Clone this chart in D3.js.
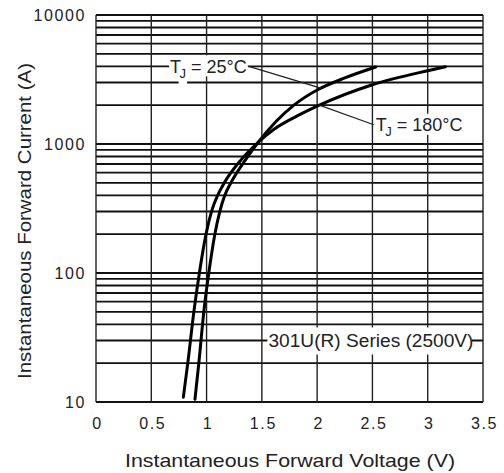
<!DOCTYPE html>
<html><head><meta charset="utf-8">
<script src="https://cdn.jsdelivr.net/npm/d3@7"></script>
<style>body{margin:0;background:#fff}svg{display:block}</style>
</head><body>
<svg id="c" width="504" height="473"></svg>
<script>
// ---- data ----
const xTicks = [0, 0.5, 1, 1.5, 2, 2.5, 3, 3.5];
const yTicks = [10, 100, 1000, 10000];
const seriesNames = ["25°C", "180°C"];
const v25  = [0.895, 0.93, 0.975, 1.02, 1.075, 1.12, 1.165, 1.22, 1.35, 1.455, 1.63, 1.79, 2.00, 2.25, 2.53];
const i25  = [10.5,  20,   50,    100,  200,   300,  400,   500,  750,  1000,  1500, 2000, 2620, 3250, 3950];
const v180 = [0.79, 0.83, 0.885, 0.935, 0.995, 1.045, 1.10, 1.16, 1.31, 1.45, 1.61, 1.82, 2.02, 2.50, 3.00, 3.16];
const i180 = [10.9, 20,   50,    100,   200,   300,   400,  500,  750,  1000, 1300, 1650, 2000, 2880, 3700, 3970];
const seriesLabel = "301U(R) Series (2500V)";
const xTitle = "Instantaneous Forward Voltage (V)";
const yTitle = "Instantaneous Forward Current (A)";

const FONT = "'Liberation Sans', Arial, sans-serif";
const svg = d3.select("#c");
const x = d3.scaleLinear().domain([0, 3.5]).range([96, 483]);
const y = d3.scaleLog().domain([10, 10000]).range([402, 15]);

// grid
const grid = svg.append("g");
grid.selectAll("line.h").data(y.ticks()).join("line")
  .attr("x1", x(0)).attr("x2", x(3.5))
  .attr("y1", d => y(d)).attr("y2", d => y(d))
  .attr("stroke", "#111").attr("stroke-width", 1.9);
grid.selectAll("line.v").data(xTicks).join("line")
  .attr("x1", d => x(d)).attr("x2", d => x(d))
  .attr("y1", y(10000)).attr("y2", y(10))
  .attr("stroke", "#222").attr("stroke-width", 1.4);

// axes
const ax = svg.append("g").attr("transform", `translate(0,${y(10)})`)
  .call(d3.axisBottom(x).tickValues(xTicks).tickSize(0).tickPadding(16).tickFormat(d => String(d)));
const ay = svg.append("g").attr("transform", `translate(${x(0)},0)`)
  .call(d3.axisLeft(y).tickValues(yTicks).tickSize(0).tickPadding(10).tickFormat(d => String(d)));
[ax, ay].forEach(a => {
  a.select(".domain").remove();
  a.selectAll("text").attr("font-family", FONT).attr("font-size", 16)
    .attr("fill", "#222").attr("letter-spacing", 1.6);
});
ax.selectAll("text").attr("dx", 1);

// curves
const line = d3.line().x(d => x(d[0])).y(d => y(d[1])).curve(d3.curveMonotoneX);
const series = [d3.zip(v25, i25), d3.zip(v180, i180)];
svg.append("g").selectAll("path").data(series).join("path")
  .attr("d", line).attr("fill", "none").attr("stroke", "#000")
  .attr("stroke-width", 3).attr("stroke-linecap", "round");

// labels with white background
const lab = svg.append("g");
function bgText(g, px, py, txt, fs) {
  return g.append("text").attr("x", px).attr("y", py).attr("font-family", FONT)
    .attr("font-size", fs).attr("fill", "#222").style("white-space", "pre").text(txt);
}
function tjLabel(x0, yc, rest) {
  const g = lab.append("g");
  const fs = 18, base = yc + 0.35 * fs;
  const t1 = bgText(g, x0, base, "T", fs);
  const w1 = t1.node().getComputedTextLength();
  const t2 = bgText(g, x0 + w1 - 1.5, base + 5, "J", 13);
  const w2 = t2.node().getComputedTextLength();
  const t3 = bgText(g, x0 + w1 - 1.5 + w2, base, " = " + rest, fs);
  const w3 = t3.node().getComputedTextLength();
  const right = x0 + w1 - 1.5 + w2 + w3;
  g.insert("rect", "text").attr("x", x0 - 1).attr("y", yc - 11).attr("width", right - x0 + 2).attr("height", 21).attr("fill", "#fff");
  g.insert("rect", "text").attr("x", x0 + w1 - 2.5).attr("y", yc).attr("width", w2 + 2).attr("height", 18).attr("fill", "#fff");
  return {left: x0, right: right};
}
const l25 = tjLabel(x(0.67), y(4000), seriesNames[0]);
const l180 = tjLabel(x(2.53), y(1410), seriesNames[1]);

// leader lines
lab.append("line").attr("x1", l25.right + 2).attr("y1", y(4000))
  .attr("x2", x(2.04)).attr("y2", y(2700)).attr("stroke", "#222").attr("stroke-width", 1.2);
lab.append("line").attr("x1", l180.left - 2).attr("y1", y(1410))
  .attr("x2", x(2.02)).attr("y2", y(2000)).attr("stroke", "#222").attr("stroke-width", 1.2);

// series label
const sg = lab.append("g");
sg.append("rect").attr("x", x(1.55)).attr("y", y(30) - 13).attr("width", x(3.4) - x(1.55)).attr("height", 27).attr("fill", "#fff");
sg.append("text").attr("x", x(1.56)).attr("y", y(30) + 6.5).attr("font-family", FONT).attr("font-size", 18)
  .attr("fill", "#222").attr("textLength", 205).attr("lengthAdjust", "spacingAndGlyphs").text(seriesLabel);

// titles
svg.append("text").attr("x", 290).attr("y", 467).attr("text-anchor", "middle")
  .attr("font-family", FONT).attr("font-size", 19).attr("fill", "#222")
  .attr("textLength", 330).attr("lengthAdjust", "spacingAndGlyphs").text(xTitle);
svg.append("text").attr("transform", "translate(31,221) rotate(-90)").attr("text-anchor", "middle")
  .attr("font-family", FONT).attr("font-size", 19).attr("fill", "#222")
  .attr("textLength", 316).attr("lengthAdjust", "spacingAndGlyphs").text(yTitle);
</script>
</body></html>
